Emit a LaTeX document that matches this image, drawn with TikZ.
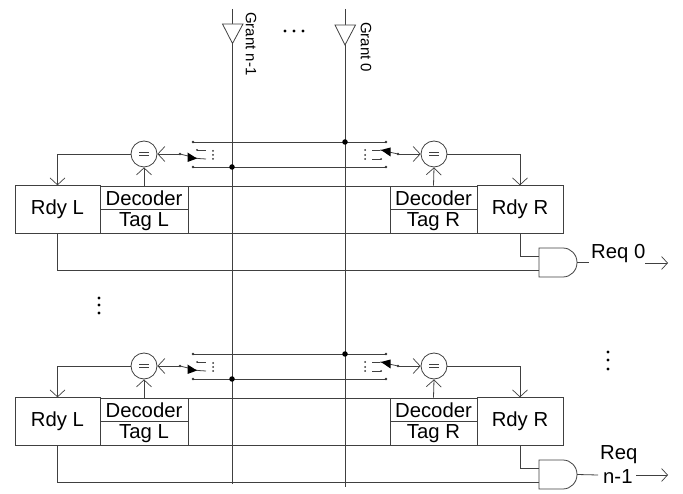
\documentclass[tikz,border=0pt]{standalone}
\usepackage{fontspec}
\setmainfont{Liberation Sans}
\usetikzlibrary{arrows.meta,calc}
\tikzset{
  wire/.style={draw=black!75,line width=0.8pt},
  chev/.style={wire,-{Straight Barb[length=7pt,width=15pt,line width=0.7pt]}},
  outarrow/.style={wire,-{Straight Barb[length=6pt,width=13pt,line width=0.7pt]}},
  cell/.style={draw=black!75,line width=0.8pt,fill=white,inner sep=0pt,font=\fontsize{20.3}{22}\selectfont},
  eqnode/.style={circle,draw=black!75,line width=0.8pt,fill=white,minimum size=26pt,inner sep=0pt},
  blob/.style={circle,fill=black,minimum size=5.5pt,inner sep=0pt},
  tiny dot/.style={circle,fill=black!80,minimum size=2.6pt,inner sep=0pt},
  ell/.style={circle,fill=black,minimum size=3.2pt,inner sep=0pt},
  grant/.style={rotate=-90,font=\fontsize{15}{16}\selectfont,inner sep=0pt},
  lab/.style={font=\fontsize{20.3}{22}\selectfont,inner sep=0pt},
  buffer/.style={wire,fill=white},
}
\begin{document}
\begin{tikzpicture}[x=1pt,y=-1pt]
\useasboundingbox (0,0) rectangle (683,494);
% grant lines
\coordinate (gnTop) at (232,9); \coordinate (gnBot) at (232,484);
\coordinate (g0Top) at (345,9); \coordinate (g0Bot) at (345,487);
\foreach \r/\off in {0/0,1/212}{
\begin{scope}[shift={(0,\off)}]
  % buses
  \coordinate (bTL\r) at (193,142); \coordinate (bTR\r) at (386,142);
  \coordinate (bBL\r) at (193,167); \coordinate (bBR\r) at (386,167);
  \draw[wire] (bTL\r) -- (bTR\r);
  \draw[wire] (bBL\r) -- (bBR\r);
  \node[tiny dot] at (bTL\r) {}; \node[tiny dot] at (bBL\r) {};
  \node[tiny dot] at (bTR\r) {}; \node[tiny dot] at (bBR\r) {};
  % boxes
  \coordinate (midTL\r) at (188,186); \coordinate (midTR\r) at (390,186);
  \coordinate (midBL\r) at (188,233); \coordinate (midBR\r) at (390,233);
  \draw[wire] (midTL\r) -- (midTR\r);
  \draw[wire] (midBL\r) -- (midBR\r);
  \node[cell,minimum width=85pt,minimum height=47.5pt] (rdyL\r) at (57.5,209.5) {Rdy L};
  \node[cell,minimum width=86pt,minimum height=47.5pt] (rdyR\r) at (520,209.5) {Rdy R};
  \node[cell,minimum width=88pt,minimum height=23.5pt] (decL\r) at (144,197.75) {Decoder};
  \node[cell,minimum width=88pt,minimum height=24pt] (tagL\r) at (144,221.5) {Tag L};
  \node[cell,minimum width=87pt,minimum height=23.5pt] (decR\r) at (433.5,197.75) {Decoder};
  \node[cell,minimum width=87pt,minimum height=24pt] (tagR\r) at (433.5,221.5) {Tag R};
  % comparators
  \node[eqnode] (eqL\r) at (144,154) {};
  \node[eqnode] (eqR\r) at (434,154) {};
  \foreach \s in {L,R}{
    \draw[wire] ($(eq\s\r)+(-5,-1.6)$) -- ($(eq\s\r)+(5,-1.6)$);
    \draw[wire] ($(eq\s\r)+(-5,1.6)$) -- ($(eq\s\r)+(5,1.6)$);
    \draw[chev] (dec\s\r.north) -- (eq\s\r.south);
  }
  % ready feedback
  \draw[chev] (eqL\r.west) -| (rdyL\r.north);
  \draw[chev] (eqR\r.east) -| (rdyR\r.north);
  % left switch
  \node[tiny dot] (swL\r) at (180,154) {};
  \coordinate (swLa\r) at (206,159);
  \draw[chev] (swL\r.center) -- (eqL\r.east);
  \draw[wire] (swL\r.center) -- (198,158.5) -- (swLa\r);
  \fill[black] (187.5,152.5) -- (197,158.5) -- (187.5,162) -- cycle;
  \draw[wire,line width=0.6pt] (197,150) -- (206,150);
  \node[tiny dot,minimum size=2pt] at (197,150) {};
  \foreach \yy in {151,155,159} \node[tiny dot,minimum size=2pt] at (213,\yy) {};
  % right switch
  \node[tiny dot] (swR\r) at (398,154) {};
  \coordinate (swRa\r) at (380,150);
  \draw[chev] (swR\r.center) -- (eqR\r.west);
  \draw[wire] (swR\r.center) -- (swRa\r);
  \fill[black] (381,150) -- (390.5,147.5) -- (390.5,156.5) -- cycle;
  \draw[wire,line width=0.6pt] (372,150) -- (380,150);
  \draw[wire,line width=0.6pt] (372,159) -- (381,159);
  \node[tiny dot,minimum size=2pt] at (381,159) {};
  \foreach \yy in {150,155,159} \node[tiny dot,minimum size=2pt] at (365,\yy) {};
  % AND gate
  \coordinate (andA\r) at (539,256); \coordinate (andB\r) at (539,270);
  \coordinate (andO\r) at (577,262.5);
  \draw[wire,fill=white] (539,248) -- (563,248) arc[start angle=90,end angle=-90,x radius=14pt,y radius=14.5pt] -- (539,277) -- cycle;
  \draw[wire] (rdyR\r.south) |- (andA\r);
  \draw[wire] (rdyL\r.south) |- (andB\r);
\end{scope}
}
% grant wires
\draw[wire] (gnTop) -- (gnBot);
\draw[wire] (g0Top) -- (g0Bot);
\foreach \off in {0,212}{
  \node[blob] at (345,142+\off) {};
  \node[blob] at (232,167+\off) {};
}
\draw[buffer] (222.5,24) -- (243,24) -- (232.5,43.5) -- cycle;
\draw[buffer] (335,25) -- (355.5,25) -- (345,45) -- cycle;
\node[grant,anchor=west] (gnLab) at (251,12) {Grant n-1};
\node[grant,anchor=west] (g0Lab) at (366,22) {Grant 0};
% outputs
\node[lab,anchor=west] (req0) at (591,253.5) {Req 0};
\coordinate (req0End) at (668,263);
\coordinate (req0Stub) at (589,262.5);
\coordinate (req0Out) at (645,263);
\draw[wire] (andO0) -- (req0Stub);
\draw[outarrow] (req0Out) -- (req0End);
\node[lab,anchor=west] (req1a) at (600,455) {Req};
\node[lab,anchor=west] (req1b) at (603,477) {n-1};
\coordinate (req1End) at (668,475);
\coordinate (req1Stub) at (598,475);
\coordinate (req1Out) at (636,475);
\draw[wire] (andO1) -- (req1Stub);
\draw[outarrow] (req1Out) -- (req1End);
% ellipses
\foreach \p/\q in {285/31,294/31,303/31,99/298,99/305,99/313,608/352,608/360,608/369}
  \node[ell] at (\p,\q) {};
\end{tikzpicture}
\end{document}
